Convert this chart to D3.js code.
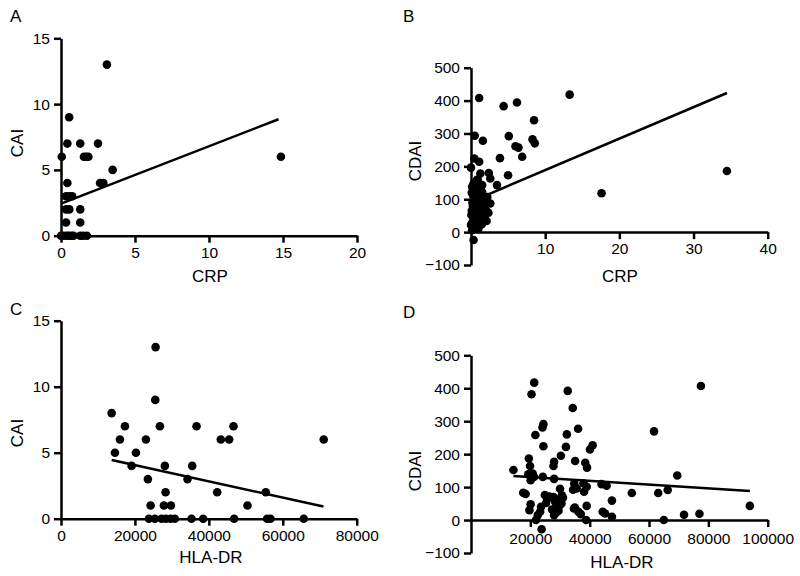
<!DOCTYPE html>
<html><head><meta charset="utf-8">
<script src="https://cdn.jsdelivr.net/npm/d3@7"></script>
<style>
body{margin:0;background:#fff;}
svg{display:block;font-family:"Liberation Sans",Arial,Helvetica,sans-serif;}
.axis .domain,.axis line{stroke:#000;stroke-width:2.5;}
.axis text{font-size:15.5px;fill:#000;font-family:"Liberation Sans",Arial,sans-serif;}
</style></head>
<body><div id="chart"></div>
<script>
// ---- Panel A: CAI vs CRP ----
const aCRP = [3.1,0.55,0.43,1.3,2.5,0.05,1.55,1.7,1.85,14.86,3.49,2.64,2.86,0.43,0.34,0.56,0.76,0.34,0.56,1.3,0.34,1.3,0.0,0.2,0.4,0.55,0.7,0.85,1.3,1.5,1.75];
const aCAI = [13,9,7,7,7,6,6,6,6,6,5,4,4,4,3,3,3,2,2,2,1,1,0,0,0,0,0,0,0,0,0];
const aFitX = [0.05,14.7];
const aFitY = [2.45,8.85];
const aXTicks = [0,5,10,15,20];
const aYTicks = [0,5,10,15];

// ---- Panel B: CDAI vs CRP ----
const bCRP = [13.3,34.5,17.6,1.1,4.4,6.2,8.5,0.5,1.6,5.1,6.0,6.4,8.3,8.6,6.9,3.9,5.0,0.45,1.1,0.0,1.26,2.4,2.6,3.5,0.8,0.35,0.15,1.5,1.5,1.05,2.2,2.6,2.35,2.1,1.45,1.9,1.7,1.9,2.15,1.9,1.5,1.05,0.6,0.35,0.05,0.0,0.15,
  0.1,0.3,0.5,0.2,0.6,0.4,0.1,0.7,0.3,0.5,0.8,0.9,0.2,0.4,0.6,0.3,0.9,1.2,1.3,1.1,1.2,0.8,0.7,1.0,0.25,0.45,1.4,1.6,1.0,0.9];
const bCDAI = [418,186,118,408,383,394,340,293,278,292,261,257,282,270,229,225,173,224,214,196,178,180,163,143,158,148,138,143,122,128,107,87,59,34,24,97,87,72,62,52,36,31,16,-24,52,22,6,
  120,110,100,90,80,70,65,60,45,40,110,95,30,10,130,140,75,105,90,65,50,45,25,10,80,55,115,100,140,160];
const bFitX = [0.1,34.5];
const bFitY = [93.5,423];
const bXTicks = [10,20,30,40];
const bYTicks = [-100,0,100,200,300,400,500];

// ---- Panel C: CAI vs HLA-DR ----
const cHLA = [13700,14600,15950,17300,19100,20270,22970,23500,24240,25590,25500,26760,28100,28290,27840,29730,34230,35500,36670,43240,45500,46670,42250,50450,55400,71080,
  23780,25400,27210,28380,29650,30810,35320,38460,46840,55760,56670,65680];
const cCAI = [8,5,6,7,4,5,6,3,1,13,9,7,4,2,1,1,3,4,7,6,6,7,2,1,2,6,
  0,0,0,0,0,0,0,0,0,0,0,0];
const cFitX = [13700,71000];
const cFitY = [4.45,0.92];
const cXTicks = [0,20000,40000,60000,80000];
const cYTicks = [0,5,10,15];

// ---- Panel D: CDAI vs HLA-DR ----
const dHLA = [14300,21300,20400,32600,34300,21700,24400,24100,36100,32300,24400,32000,41000,40100,30300,35100,19500,19900,28000,27800,38500,39100,19300,20800,21200,20100,24200,28000,34800,35600,37900,39000,38100,44000,45700,17600,18400,24900,25700,26400,25300,27800,28400,29500,30000,30600,31000,28800,29900,27300,28700,28000,29500,30500,20100,19700,23600,23300,22500,21900,23800,34700,36200,37000,39000,38800,44400,45200,47500,47500,54200,61700,63100,66300,69500,65000,71800,77000,77500,94000,34400,35000];
const dCDAI = [152,417,382,392,340,258,291,281,277,260,224,222,227,214,195,179,187,164,177,164,174,159,139,141,131,121,131,125,111,96,111,101,86,109,104,83,79,76,63,71,52,70,55,60,95,75,68,40,45,32,22,15,28,50,48,30,40,25,15,0,-28,35,25,18,43,0,25,20,59,10,82,269,82,91,135,0,16,19,407,43,92,38];
const dFitX = [14300,94000];
const dFitY = [134,88];
const dXTicks = [20000,40000,60000,80000,100000];
const dYTicks = [-100,0,100,200,300,400,500];

const svg = d3.select("#chart").append("svg").attr("width",800).attr("height",576);

function panel(o){
  const g = svg.append("g");
  const xs = d3.scaleLinear().domain(o.xDom).range(o.xRange);
  const ys = d3.scaleLinear().domain(o.yDom).range(o.yRange);
  const fmt = d3.format("d");
  g.append("g").attr("class","axis")
    .attr("transform",`translate(0,${ys(0)})`)
    .call(d3.axisBottom(xs).tickValues(o.xTicks).tickFormat(fmt).tickSize(7).tickSizeOuter(0).tickPadding(o.xPad));
  g.append("g").attr("class","axis")
    .attr("transform",`translate(${xs(0)},0)`)
    .call(d3.axisLeft(ys).tickValues(o.yTicks).tickFormat(fmt).tickSize(7).tickSizeOuter(0).tickPadding(4));
  g.append("line")
    .attr("x1",xs(o.fitX[0])).attr("y1",ys(o.fitY[0]))
    .attr("x2",xs(o.fitX[1])).attr("y2",ys(o.fitY[1]))
    .attr("stroke","#000").attr("stroke-width",2.5);
  g.selectAll("circle.pt").data(o.xv.map((v,i)=>[v,o.yv[i]])).join("circle")
    .attr("class","pt").attr("cx",d=>xs(d[0])).attr("cy",d=>ys(d[1])).attr("r",4.3).attr("fill","#000");
  g.append("text").text(o.letter).attr("x",o.letterPos[0]).attr("y",o.letterPos[1])
    .attr("font-size",17).attr("fill","#000");
  g.append("text").text(o.xLabel).attr("x",o.xLabPos[0]).attr("y",o.xLabPos[1])
    .attr("text-anchor","middle").attr("font-size",17).attr("fill","#000");
  g.append("text").text(o.yLabel)
    .attr("transform",`translate(${o.yLabPos[0]},${o.yLabPos[1]}) rotate(-90)`)
    .attr("text-anchor","middle").attr("font-size",17).attr("fill","#000");
}

panel({xv:aCRP,yv:aCAI,fitX:aFitX,fitY:aFitY,xTicks:aXTicks,yTicks:aYTicks,
  xDom:[0,20],xRange:[61,357],yDom:[0,15],yRange:[235.7,38.3],xPad:4,
  letter:"A",letterPos:[10,22],xLabel:"CRP",xLabPos:[210,282],yLabel:"CAI",yLabPos:[23,143]});
panel({xv:bCRP,yv:bCDAI,fitX:bFitX,fitY:bFitY,xTicks:bXTicks,yTicks:bYTicks,
  xDom:[0,40],xRange:[471,767.7],yDom:[-100,500],yRange:[265,67.7],xPad:4,
  letter:"B",letterPos:[403,22],xLabel:"CRP",xLabPos:[620,282],yLabel:"CDAI",yLabPos:[421,161]});
panel({xv:cHLA,yv:cCAI,fitX:cFitX,fitY:cFitY,xTicks:cXTicks,yTicks:cYTicks,
  xDom:[0,80000],xRange:[61,356.7],yDom:[0,15],yRange:[518.7,320.7],xPad:4,
  letter:"C",letterPos:[10,315],xLabel:"HLA-DR",xLabPos:[211,563],yLabel:"CAI",yLabPos:[23,433]});
panel({xv:dHLA,yv:dCDAI,fitX:dFitX,fitY:dFitY,xTicks:dXTicks,yTicks:dYTicks,
  xDom:[0,100000],xRange:[471,767.7],yDom:[-100,500],yRange:[553,355.3],xPad:6,
  letter:"D",letterPos:[403,318],xLabel:"HLA-DR",xLabPos:[622,568],yLabel:"CDAI",yLabPos:[421,471]});
</script></body></html>
